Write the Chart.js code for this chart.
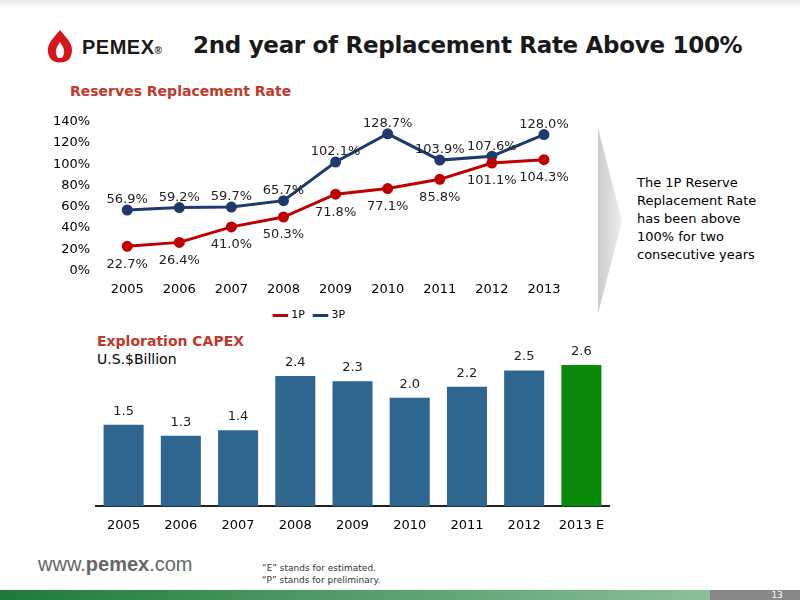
<!DOCTYPE html>
<html><head><meta charset="utf-8">
<script src="https://cdn.jsdelivr.net/npm/chart.js@4"></script>
<style>
body{margin:0;width:800px;height:600px;position:relative;font-family:"DejaVu Sans",sans-serif;background:#fff;overflow:hidden}
.abs{position:absolute;white-space:nowrap}
</style></head><body>
<div class="abs" style="left:0;top:0;width:800px;height:8px;background:linear-gradient(#e8e8e8,#fff)"></div>
<div class="abs" style="left:40px;top:28px;width:40px;height:36px">
<svg width="40" height="36"><path d="M20 2 C28 12 36 18 30 30 C26 36 14 36 10 30 C4 18 12 12 20 2Z" fill="#d7141a"/><path d="M20 14 C24 20 26 24 22 30 L18 30 C14 24 16 20 20 14Z" fill="#fff"/></svg></div>
<div class="abs" style="left:82px;top:36px;font:bold 20px 'Liberation Sans';color:#1a1a1a;letter-spacing:0.5px">PEMEX<span style="font-size:10px">®</span></div>
<div class="abs" style="left:193px;top:32px;font:bold 23px 'DejaVu Sans';color:#1a1a1a;letter-spacing:-0.3px">2nd year of Replacement Rate Above 100%</div>
<div class="abs" style="left:70px;top:83px;font:bold 14px 'DejaVu Sans';color:#c0392b">Reserves Replacement Rate</div>
<div class="abs" style="left:598px;top:128px;width:24px;height:186px;background:linear-gradient(90deg,#ccc,#eee);clip-path:polygon(0 0,100% 50%,0 100%,0 0)"></div>
<div class="abs" style="left:637px;top:174px;font:13px 'DejaVu Sans';line-height:18px;color:#000">The 1P Reserve<br>Replacement Rate<br>has been above<br>100% for two<br>consecutive years</div>
<div class="abs" style="left:97px;top:333px;font:bold 14px 'DejaVu Sans';color:#c0392b">Exploration CAPEX</div>
<div class="abs" style="left:97px;top:351px;font:14px 'DejaVu Sans';color:#000">U.S.$Billion</div>
<div class="abs" style="left:38px;top:553px;font:20px 'Liberation Sans';color:#666">www.<b>pemex</b>.com</div>
<div class="abs" style="left:262px;top:562px;font:9px 'DejaVu Sans';color:#333;line-height:12px">“E” stands for estimated.<br>“P” stands for preliminary.</div>
<div class="abs" style="left:0;top:590px;width:710px;height:10px;background:linear-gradient(90deg,#1e7a3c,#8bbf9a)"></div>
<div class="abs" style="left:710px;top:590px;width:90px;height:10px;background:#888;color:#fff;font:9px 'DejaVu Sans';text-align:right">13&nbsp;&nbsp;&nbsp;&nbsp;&nbsp;&nbsp;</div>
<div class="abs" style="left:50px;top:111px;width:530px;height:220px"><canvas id="c1"></canvas></div>
<div class="abs" style="left:95px;top:346px;width:515px;height:190px"><canvas id="c2"></canvas></div>
<script>
const years=['2005','2006','2007','2008','2009','2010','2011','2012','2013'];
const p1=[22.7,26.4,41.0,50.3,71.8,77.1,85.8,101.1,104.3];
const p3=[56.9,59.2,59.7,65.7,102.1,128.7,103.9,107.6,128.0];
const capexYears=['2005','2006','2007','2008','2009','2010','2011','2012','2013 E'];
const capex=[1.5,1.3,1.4,2.4,2.3,2.0,2.2,2.5,2.6];
const font="'DejaVu Sans'";
const lbl={id:'lbl',afterDatasetsDraw(ch,a,o){const ctx=ch.ctx;ctx.save();ctx.font='13px '+font;ctx.fillStyle='#222';ctx.textAlign='center';
 ch.data.datasets.forEach((ds,i)=>{const m=ch.getDatasetMeta(i);m.data.forEach((pt,j)=>{let v=ds.data[j];let t=o.fmt(v);let y=o.pos(i,j)<0?pt.y-10:pt.y+18;ctx.fillText(t,pt.x,y);});});ctx.restore();}};
Chart.defaults.font.family=font;Chart.defaults.color='#000';
new Chart(c1,{type:'line',data:{labels:years,datasets:[
{label:'1P',data:p1,borderColor:'#c00000',backgroundColor:'#c00000',borderWidth:3,pointRadius:4},
{label:'3P',data:p3,borderColor:'#1f3a6e',backgroundColor:'#1f3a6e',borderWidth:3,pointRadius:4}]},
options:{animation:false,responsive:true,maintainAspectRatio:false,layout:{padding:{top:10,right:10}},
plugins:{legend:{position:'bottom',labels:{usePointStyle:true,pointStyle:'line',font:{size:11},boxWidth:30}},tooltip:{enabled:false},
lbl:{fmt:v=>v.toFixed(1)+'%',pos:(i,j)=>i==1?-1:1}},
scales:{y:{min:0,max:140,ticks:{stepSize:20,callback:v=>v+'%',font:{size:13}},grid:{display:false},border:{display:false}},
x:{offset:true,grid:{display:false},border:{display:false},ticks:{font:{size:13}}}}},plugins:[lbl]});
new Chart(c2,{type:'bar',data:{labels:capexYears,datasets:[{data:capex,backgroundColor:capex.map((v,i)=>i==8?'#0a8a0a':'#2e6690'),categoryPercentage:0.7,barPercentage:1}]},
options:{animation:false,responsive:true,maintainAspectRatio:false,
plugins:{legend:{display:false},tooltip:{enabled:false},lbl:{fmt:v=>v.toFixed(1),pos:()=>-1}},
scales:{y:{min:0,max:2.95,display:false},x:{grid:{display:false},border:{color:'#222',width:2},ticks:{font:{size:13}}}}},plugins:[lbl]});
</script></body></html>
